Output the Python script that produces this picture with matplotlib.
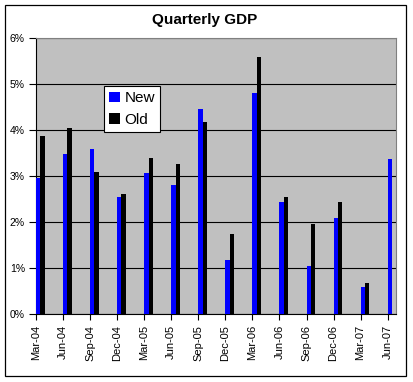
import numpy as np
import matplotlib.pyplot as plt
from matplotlib.patches import Patch, Rectangle
from matplotlib.ticker import PercentFormatter

plt.rcParams['font.family'] = ['Liberation Sans', 'DejaVu Sans']

# quarterly GDP growth, percent
quarters = ["Mar-04", "Jun-04", "Sep-04", "Dec-04", "Mar-05", "Jun-05", "Sep-05",
            "Dec-05", "Mar-06", "Jun-06", "Sep-06", "Dec-06", "Mar-07", "Jun-07"]
new_gdp = [2.96, 3.48, 3.59, 2.54, 3.07, 2.80, 4.46, 1.17, 4.80, 2.43, 1.04, 2.09, 0.59, 3.37]
old_gdp = [3.86, 4.05, 3.09, 2.61, 3.39, 3.26, 4.17, 1.74, 5.59, 2.54, 1.96, 2.43, 0.67, np.nan]

W, H = 413, 382
fig = plt.figure(figsize=(W / 100, H / 100), dpi=100)
fig.patch.set_facecolor("white")

# chart border
fig.add_artist(Rectangle((5 / W, 1 - 376 / H), 401 / W, 371 / H, transform=fig.transFigure,
                         fill=False, edgecolor="black", linewidth=0.9))

ax = fig.add_axes([36 / W, 1 - 314 / H, 360 / W, 276 / H])
ax.set_facecolor("#C0C0C0")

x = np.arange(len(quarters))
bw = 0.16
ax.bar(x, new_gdp, width=bw, align="edge", color="#0000FF", label="New", zorder=3)
ax.bar(x + bw, old_gdp, width=bw, align="edge", color="#000000", label="Old", zorder=3)

ax.set_xlim(0, 360 / 27.05)
ax.set_ylim(0, 6)
ax.set_yticks(range(0, 7))
ax.yaxis.set_major_formatter(PercentFormatter(decimals=0))
ax.grid(axis="y", color="black", linewidth=0.8, zorder=1)
ax.set_axisbelow(True)

ax.set_xticks(x)
ax.set_xticklabels(quarters, rotation=90, fontsize=8)
ax.tick_params(axis="y", labelsize=7.5, length=5, width=0.8, direction="out", pad=3)
ax.tick_params(axis="x", length=4, width=0.8, direction="out", pad=4)

for s in ["left", "bottom"]:
    ax.spines[s].set_color("black")
    ax.spines[s].set_linewidth(0.8)
for s in ["top", "right"]:
    ax.spines[s].set_color("#808080")
    ax.spines[s].set_linewidth(0.8)

fig.text(205 / W, 1 - 20 / H, "Quarterly GDP", ha="center", va="center",
         fontsize=11, fontweight="bold")

handles = [Patch(facecolor="#0000FF", label="New"), Patch(facecolor="#000000", label="Old")]
leg = fig.legend(handles=handles, loc="upper left", bbox_to_anchor=(104 / W, 1 - 86 / H),
                 fontsize=11, frameon=True, fancybox=False, framealpha=1,
                 handlelength=0.7, handleheight=0.7, handletextpad=0.3,
                 borderpad=0.35, labelspacing=0.5, borderaxespad=0)
leg.get_frame().set_edgecolor("black")
leg.get_frame().set_linewidth(0.8)

fig.savefig("out.png", dpi=100)
